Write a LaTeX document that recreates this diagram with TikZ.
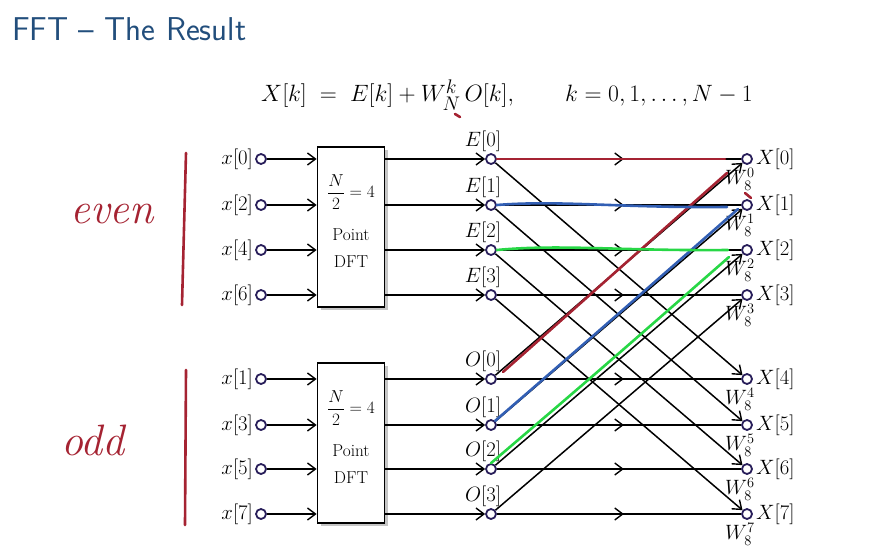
\documentclass[tikz,border=0pt]{standalone}
\usepackage{amsmath}
\usepackage{tikz}
\usetikzlibrary{arrows.meta,positioning,shadows,decorations.markings}
\definecolor{titleblue}{RGB}{34,78,124}
\definecolor{portblue}{RGB}{40,30,90}
\definecolor{penred}{RGB}{165,35,50}
\definecolor{penblue}{RGB}{50,95,180}
\definecolor{pengreen}{RGB}{40,215,70}
\tikzset{
  fft port/.style={
    circle,
    draw=portblue,
    fill=white,
    line width=1.8pt,
    minimum size=10pt,
    inner sep=0pt,
  },
  fft dft/.style={
    rectangle,
    draw=black,
    line width=1.8pt,
    fill=white,
    minimum width=67pt,
    minimum height=160pt,
    drop shadow={shadow xshift=3pt,shadow yshift=-3pt,fill=black!45},
  },
  fft dft text/.style={align=center, yshift=6pt, font=\fontsize{17.28}{20}\selectfont},
  fft label/.style={font=\fontsize{20.74}{23}\selectfont, inner sep=1pt},
  fft arrow/.style={-{Straight Barb[length=8pt,width=12pt,line width=1.4pt]}, line width=2pt},
  fft cross/.style={-{Straight Barb[length=8pt,width=12pt,line width=1.4pt]}, line width=1.5pt},
  fft mid/.style={
    line width=2pt,
    postaction=decorate,
    decoration={markings, mark=at position 0.52 with {\arrow{Straight Barb[length=8pt,width=12pt,line width=1.4pt]}}},
  },
  pen line/.style={line width=2.6pt, line cap=round},
  pen text/.style={text=penred, font=\itshape\fontsize{44}{46}\selectfont},
}

\begin{document}
\begin{tikzpicture}[x=1pt,y=-1pt]
  \useasboundingbox (0,0) rectangle (895,559);

  \node[anchor=base west, text=titleblue, inner sep=0pt,
        font=\sffamily\fontsize{33}{36}\selectfont] (title) at (12,41) {FFT -- The Result};
  \node[font=\fontsize{24.88}{28}\selectfont, scale=0.95] (eq) at (507,95)
    {$X[k] \;=\; E[k] + W_N^k\,O[k], \qquad k = 0,1,\ldots,N-1$};

  \node[fft dft, label={[fft dft text]center:$\dfrac{N}{2}=4$\\[18pt]Point\\[7pt]DFT}] (dftE) at (351,227) {};
  \node[fft dft, label={[fft dft text]center:$\dfrac{N}{2}=4$\\[18pt]Point\\[7pt]DFT}] (dftO) at (351,443) {};

  % inputs
  \foreach \k/\y in {0/159,2/205,4/250,6/295,1/379,3/425,5/469,7/514} {
    \node[fft port] (x\k) at (261,\y) {};
    \node[fft label,left=1pt of x\k] {$x[\k]$};
  }
  % half-size DFT outputs and final outputs
  \foreach \k/\ye/\yo in {0/159/379,1/205/425,2/250/469,3/295/514} {
    \node[fft port] (E\k) at (491,\ye) {};
    \node[fft port] (O\k) at (491,\yo) {};
    \node[fft label,above=0pt of E\k,xshift=-8pt] {$E[\k]$};
    \node[fft label,above=0pt of O\k,xshift=-8pt] {$O[\k]$};
  }
  \foreach \k/\y in {0/159,1/205,2/250,3/295,4/379,5/425,6/469,7/514} {
    \node[fft port] (X\k) at (747,\y) {};
    \node[fft label,right=2pt of X\k] {$X[\k]$};
    \node[fft label,below=2pt of X\k,xshift=-7pt] {$W_8^{\k}$};
  }

  \foreach \k in {0,2,4,6} \draw[fft arrow] (x\k) -- (x\k -| dftE.west);
  \foreach \k in {1,3,5,7} \draw[fft arrow] (x\k) -- (x\k -| dftO.west);
  \foreach \k/\m in {0/4,1/5,2/6,3/7} {
    \draw[fft arrow] (E\k -| dftE.east) -- (E\k);
    \draw[fft arrow] (O\k -| dftO.east) -- (O\k);
    \draw[fft mid] (E\k) -- (X\k);
    \draw[fft mid] (O\k) -- (X\m);
    \draw[fft cross] (E\k) -- (X\m);
    \draw[fft cross] (O\k) -- (X\k);
  }

  % handwritten notes
  \draw[pen line,penred] (186,153) -- (182,305);
  \draw[pen line,penred] (186,370) -- (185,525);
  \node[pen text] (even) at (112,214) {even};
  \node[pen text] (odd) at (93,440) {odd};
  \draw[pen line,penred] (455,114) -- (460,117);
  \draw[pen line,penred] (745,193) -- (751,198);
  \draw[pen line,penred] (E0.east) -- (725,159);
  \draw[pen line,penred] (503,372) -- (727,173);
  \draw[pen line,penblue] (E1.east) .. controls (560,200) and (620,208) .. (727,207);
  \draw[pen line,penblue] (O1.north east) .. controls (600,330) .. (738,209);
  \draw[pen line,pengreen] (E2.east) .. controls (560,244) and (620,251) .. (728,250);
  \draw[pen line,pengreen] (O2.north) .. controls (600,370) .. (729,257);
\end{tikzpicture}
\end{document}
